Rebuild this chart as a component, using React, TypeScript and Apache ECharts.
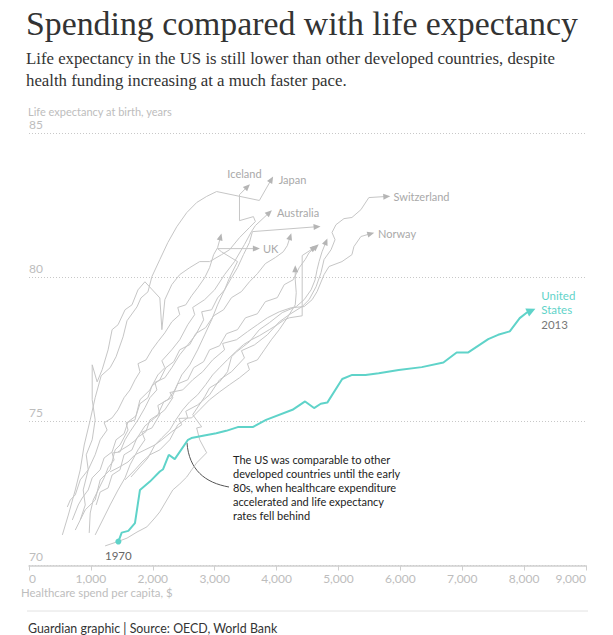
import React, { useEffect, useRef } from "react";
import * as echarts from "echarts";

// ---------- data (healthcare spend per capita $, life expectancy years) ----------
const xTicks = [0, 1000, 2000, 3000, 4000, 5000, 6000, 7000, 8000, 9000];
const yTicks = [70, 75, 80, 85];

const unitedStates = [
  [1444, 70.83], [1498, 71.14], [1605, 71.2], [1712, 71.47], [1793, 72.62], [1953, 72.91],
  [2114, 73.26], [2167, 73.34], [2259, 73.84], [2355, 73.69], [2569, 74.36], [2624, 74.42],
  [2810, 74.5], [3026, 74.59], [3186, 74.67], [3373, 74.8], [3614, 74.8], [3830, 75.05],
  [4257, 75.4], [4461, 75.69], [4606, 75.46], [4714, 75.61], [4820, 75.65], [5061, 76.47],
  [5222, 76.61], [5437, 76.61], [5651, 76.67], [5973, 76.78], [6347, 76.88], [6696, 77.04],
  [6910, 77.39], [7098, 77.39], [7420, 77.85], [7580, 78.0], [7768, 78.12], [7929, 78.58],
  [8035, 78.76], [8116, 78.84],
];
const japan = [
  [539, 71.06], [635, 71.75], [748, 72.62], [828, 73.32], [892, 74.18], [989, 75.05],
  [1069, 75.82], [1166, 76.58], [1311, 76.86], [1407, 77.24], [1520, 77.93], [1584, 78.49],
  [1745, 78.97], [1809, 79.28], [1922, 79.49], [1986, 80.02], [2114, 80.61], [2243, 81.2],
  [2388, 81.75], [2549, 82.24], [2710, 82.59], [2870, 82.8], [3031, 82.97], [3722, 82.66],
  [3916, 83.39],
];
const iceland = [
  [828, 71.58], [909, 72.1], [876, 72.62], [957, 73.32], [925, 73.84], [1021, 74.36],
  [1069, 75.05], [1021, 75.75], [1021, 76.96], [1101, 76.37], [1182, 76.79], [1278, 77.48],
  [1343, 78.18], [1439, 78.35], [1552, 78.87], [1664, 79.04], [1761, 79.56], [1873, 79.84],
  [2114, 79.28], [2147, 78.18], [2195, 79.22], [2307, 79.74], [2436, 80.09], [2597, 80.33],
  [2758, 80.54], [2918, 80.54], [3111, 80.78], [3240, 80.95], [3401, 81.37], [3562, 81.72],
  [3658, 81.93], [3626, 82.1], [3401, 81.96], [3401, 82.86], [3530, 83.14],
];
const australia = [
  [748, 71.23], [909, 71.93], [1069, 72.27], [1150, 72.97], [1311, 73.32], [1391, 74.01],
  [1471, 74.18], [1600, 74.7], [1568, 74.95], [1713, 75.05], [1793, 75.75], [1954, 76.09],
  [2082, 76.61], [2195, 76.86], [2147, 77.1], [2307, 77.48], [2436, 77.83], [2565, 78.35],
  [2677, 78.7], [2645, 78.95], [2838, 79.22], [2999, 79.56], [3160, 80.09], [3320, 80.54],
  [3481, 81.13], [3594, 81.58], [3658, 81.79], [3883, 82.24],
];
const uk = [
  [1069, 71.06], [1230, 71.75], [1311, 72.1], [1439, 72.62], [1552, 73.04], [1632, 73.49],
  [1761, 74.01], [1873, 74.36], [1825, 74.62], [1986, 74.77], [2114, 75.23], [2082, 75.55],
  [2243, 75.75], [2356, 76.09], [2468, 76.61], [2597, 76.96], [2725, 77.48], [2838, 78.0],
  [2951, 78.52], [3047, 79.04], [3160, 79.56], [3240, 79.98], [3369, 80.54], [3111, 80.88],
  [3047, 80.99], [3674, 80.99],
];
const switzerland = [
  [1552, 72.97], [1713, 73.32], [1825, 73.59], [1954, 73.84], [2114, 74.01], [2275, 74.36],
  [2404, 74.88], [2565, 75.12], [2533, 75.35], [2725, 75.57], [2918, 75.92], [3079, 76.44],
  [3272, 76.72], [3481, 77.2], [3433, 77.45], [3642, 77.65], [3851, 78.0], [4044, 78.45],
  [4205, 78.7], [4414, 78.98], [4526, 79.22], [4639, 79.67], [4719, 80.16], [4767, 80.61],
  [4880, 80.95], [4945, 81.3], [4896, 81.55], [4960, 81.82], [5089, 82.03], [5218, 82.07],
  [5363, 82.34], [5491, 82.76], [5781, 82.8],
];
const norway = [
  [1439, 73.94], [1600, 74.15], [1729, 74.36], [1873, 74.84], [2034, 75.12], [2195, 75.4],
  [2324, 75.82], [2276, 76.0], [2484, 76.09], [2645, 76.44], [2806, 76.72], [2967, 77.13],
  [3160, 77.48], [3128, 77.7], [3353, 77.83], [3530, 78.11], [3690, 78.35], [3851, 78.59],
  [4044, 78.8], [4237, 78.94], [4446, 78.98], [4575, 79.22], [4655, 79.5], [4768, 80.09],
  [4848, 80.37], [5057, 80.54], [5218, 80.78], [5250, 81.06], [5363, 81.41], [5524, 81.51],
];
const countryN1 = [
  [619, 72.03], [667, 72.27], [748, 72.45], [828, 72.97], [957, 73.32], [1069, 73.84],
  [1150, 74.36], [1262, 74.7], [1214, 74.95], [1343, 75.12], [1439, 75.4], [1536, 75.82],
  [1632, 76.09], [1713, 76.44], [1793, 76.72], [1761, 77.0], [1890, 77.13], [1986, 77.48],
  [2082, 77.76], [2195, 78.07], [2307, 78.45], [2436, 78.7], [2404, 78.95], [2533, 79.04],
  [2629, 79.36], [2725, 79.63], [2838, 79.98], [2918, 80.33], [2983, 80.78], [3047, 81.02],
  [3095, 81.4],
];
const countryN2 = [
  [700, 71.58], [796, 72.1], [860, 72.34], [957, 72.62], [1021, 73.04], [1150, 73.32],
  [1214, 73.73], [1343, 73.94], [1407, 74.36], [1536, 74.57], [1600, 74.98], [1729, 75.19],
  [1793, 75.61], [1922, 75.82], [1986, 76.23], [2114, 76.44], [2211, 76.86], [2340, 77.07],
  [2436, 77.48], [2597, 77.66], [2693, 78.04], [2854, 78.25], [2983, 78.66], [3144, 78.87],
  [3272, 79.29], [3433, 79.5], [3562, 79.84], [3690, 80.12], [3819, 80.47], [3980, 80.68],
  [4108, 80.88], [4173, 81.09], [4221, 81.41],
];
const countryF = [
  [973, 71.13], [989, 71.82], [1037, 72.27], [1118, 72.62], [1214, 73.04], [1278, 73.39],
  [1375, 73.66], [1343, 73.9], [1471, 73.94], [1552, 74.36], [1632, 74.64], [1761, 75.05],
  [1873, 75.47], [1954, 75.82], [2066, 76.09], [2034, 76.35], [2195, 76.51], [2307, 76.86],
  [2436, 77.31], [2565, 77.65], [2693, 78.0], [2822, 78.52], [2790, 78.8], [2951, 78.87],
  [3047, 79.28], [3160, 79.56], [3272, 79.98], [3369, 80.33], [3465, 80.78], [3562, 81.2],
  [3610, 81.58], [4655, 81.75],
];
const countryD = [
  [1311, 73.25], [1439, 73.39], [1600, 73.59], [1713, 73.84], [1873, 74.01], [2034, 74.18],
  [2147, 74.36], [2307, 74.64], [2468, 74.88], [2420, 75.1], [2629, 75.12], [2758, 75.4],
  [2918, 75.75], [3079, 76.02], [3240, 76.27], [3401, 76.51], [3562, 76.79], [3530, 77.0],
  [3690, 77.13], [3803, 77.48], [3916, 77.83], [4044, 78.18], [4173, 78.59], [4302, 79.04],
  [4318, 79.46], [4302, 79.91], [4302, 80.29],
];
const countryR = [
  [1230, 70.68], [1423, 70.82], [1584, 70.95], [1745, 71.16], [1905, 71.34], [2034, 71.65],
  [2114, 71.86], [2227, 72.27], [2323, 72.62], [2436, 72.83], [2549, 73.07], [2629, 73.32],
  [2709, 73.56], [2870, 73.91], [2758, 74.36], [2709, 74.77], [2790, 74.81], [2645, 75.23],
  [2838, 75.85], [2918, 76.16], [3079, 76.37], [3208, 76.72], [3272, 77.24], [3353, 77.41],
  [3562, 77.76], [3722, 78.18], [3883, 78.42], [4092, 78.77], [4318, 78.98], [4446, 79.22],
  [4558, 79.56], [4623, 79.91], [4655, 80.26], [4687, 80.54], [4735, 80.88], [4800, 81.23],
];
const countryG1 = [
  [1648, 73.07], [1793, 73.42], [1922, 73.73], [2034, 74.18], [2147, 74.43], [2275, 74.7],
  [2372, 75.05], [2484, 75.4], [2597, 75.68], [2725, 75.92], [2854, 76.27], [2967, 76.61],
  [3079, 76.86], [3208, 77.14], [3337, 77.41], [3465, 77.66], [3594, 77.83], [3722, 77.97],
  [3883, 78.18], [4012, 78.35], [4124, 78.52], [4205, 78.59], [4414, 78.66], [4414, 80.75],
  [4607, 81.02],
];
const countryG2 = [
  [1085, 72.1], [1150, 72.55], [1278, 72.69], [1343, 73.14], [1471, 73.32], [1536, 73.84],
  [1664, 74.01], [1745, 74.43], [1889, 74.64], [1954, 75.05], [2082, 75.23], [2179, 75.68],
  [2307, 75.82], [2404, 76.3], [2565, 76.44], [2661, 76.86], [2822, 77.07], [2918, 77.48],
  [3079, 77.62], [3192, 78.04], [3369, 78.18], [3497, 78.59], [3690, 78.73], [3819, 79.15],
  [4012, 79.29], [4124, 79.74], [4269, 79.91], [4366, 80.33], [4462, 80.61], [4526, 80.85],
  [4639, 81.06],
];

const TEAL = "#5fd3c9";
const GRAY = "#c6c6c6";
const LABEL_GRAY = "#a9a9a9";
const SANS = "Lato, 'Open Sans', sans-serif";
const SERIF = "'Liberation Serif', 'DejaVu Serif', serif";

type Country = { name: string; data: number[][]; label?: string; pos?: string; offset?: number[] };

const grayCountries: Country[] = [
  { name: "Japan", data: japan, label: "Japan", pos: "right" },
  { name: "Iceland", data: iceland, label: "Iceland", pos: "top", offset: [-3, 0] },
  { name: "Australia", data: australia, label: "Australia", pos: "right" },
  { name: "UK", data: uk, label: "UK", pos: "right" },
  { name: "Switzerland", data: switzerland, label: "Switzerland", pos: "right" },
  { name: "Norway", data: norway, label: "Norway", pos: "right" },
  { name: "N1", data: countryN1 },
  { name: "N2", data: countryN2 },
  { name: "F", data: countryF },
  { name: "D", data: countryD },
  { name: "R", data: countryR },
  { name: "G1", data: countryG1 },
  { name: "G2", data: countryG2 },
];

const annotationLines = [
  "The US was comparable to other",
  "developed countries until the early",
  "80s, when healthcare expenditure",
  "accelerated and life expectancy",
  "rates fell behind",
];

export default function App() {
  const ref = useRef<HTMLDivElement>(null);

  useEffect(() => {
    if (!ref.current) return;
    const chart = echarts.init(ref.current, undefined, { renderer: "svg" });

    const build = (rot: Record<string, number>, conn: number[] | null) => {
      const series: any[] = grayCountries.map((c) => {
        const n = c.data.length;
        const last: any = {
          value: c.data[n - 1],
          symbol: "triangle",
          symbolSize: [6, 7],
          symbolRotate: rot[c.name] || 0,
          itemStyle: { color: "#b5b5b5" },
        };
        if (c.label) {
          last.label = {
            show: true,
            position: c.pos,
            distance: 3,
            offset: c.offset || [0, 0],
            formatter: c.label,
            color: LABEL_GRAY,
            fontSize: 11,
            fontFamily: SANS,
          };
        }
        return {
          type: "line",
          name: c.name,
          data: [...c.data.slice(0, n - 1), last],
          showSymbol: true,
          symbol: "none",
          lineStyle: { color: GRAY, width: 1 },
          itemStyle: { color: GRAY },
          silent: true,
          z: 2,
          clip: false,
        };
      });
      const nu = unitedStates.length;
      series.push({
        type: "line",
        name: "United States",
        data: [
          {
            value: unitedStates[0],
            symbol: "circle",
            symbolSize: 6,
            itemStyle: { color: TEAL },
            label: {
              show: true,
              position: "bottom",
              distance: 5,
              formatter: "1970",
              color: "#666",
              fontSize: 11.5,
              fontFamily: SANS,
            },
          },
          ...unitedStates.slice(1, nu - 1),
          {
            value: unitedStates[nu - 1],
            symbol: "triangle",
            symbolSize: [9, 9],
            symbolRotate: rot["United States"] || 0,
            itemStyle: { color: TEAL },
            label: {
              show: true,
              position: "right",
              distance: 4,
              formatter: "{a|United}\n{a|States}\n{b|2013}",
              rich: {
                a: { color: TEAL, fontSize: 11.5, lineHeight: 14, fontFamily: SANS },
                b: { color: "#777", fontSize: 11.5, lineHeight: 16, fontFamily: SANS },
              },
            },
          },
        ],
        showSymbol: true,
        symbol: "none",
        lineStyle: { color: TEAL, width: 2 },
        itemStyle: { color: TEAL },
        silent: true,
        z: 5,
        clip: false,
      });

      const graphic: any[] = [
        {
          type: "text",
          x: 26,
          y: 23,
          style: {
            text: "Spending compared with life expectancy",
            fill: "#333",
            fontSize: 33.8,
            fontFamily: SERIF,
            verticalAlign: "middle",
          },
        },
        {
          type: "text",
          x: 26,
          y: 58,
          style: {
            text: "Life expectancy in the US is still lower than other developed countries, despite",
            fill: "#333",
            fontSize: 16.8,
            fontFamily: SERIF,
            verticalAlign: "middle",
          },
        },
        {
          type: "text",
          x: 26,
          y: 80,
          style: {
            text: "health funding increasing at a much faster pace.",
            fill: "#333",
            fontSize: 16.8,
            fontFamily: SERIF,
            verticalAlign: "middle",
          },
        },
        {
          type: "text",
          x: 28,
          y: 111,
          style: {
            text: "Life expectancy at birth, years",
            fill: "#bdbdbd",
            fontSize: 11,
            fontFamily: SANS,
            verticalAlign: "middle",
          },
        },
        {
          type: "text",
          x: 21,
          y: 592,
          style: {
            text: "Healthcare spend per capita, $",
            fill: "#bdbdbd",
            fontSize: 11.4,
            fontFamily: SANS,
            verticalAlign: "middle",
          },
        },
        {
          type: "line",
          shape: { x1: 27, y1: 611, x2: 588, y2: 611 },
          style: { stroke: "#e2e2e2", lineWidth: 1 },
        },
        {
          type: "text",
          x: 28,
          y: 628,
          style: {
            text: "Guardian graphic | Source: OECD, World Bank",
            fill: "#333",
            fontSize: 12.4,
            fontFamily: SANS,
            verticalAlign: "middle",
          },
        },
        {
          type: "text",
          x: 233,
          y: 453,
          style: {
            text: annotationLines.join("\n"),
            fill: "#222",
            fontSize: 11,
            lineHeight: 13.8,
            fontFamily: SANS,
            verticalAlign: "top",
          },
        },
      ];
      if (conn) {
        graphic.push({
          type: "bezierCurve",
          shape: {
            x1: conn[0] - 1,
            y1: conn[1] + 3,
            cpx1: conn[0] + 1,
            cpy1: conn[1] + 30,
            cpx2: conn[0] + 17,
            cpy2: conn[1] + 43,
            x2: 229,
            y2: 487,
          },
          style: { stroke: "#555", lineWidth: 1, fill: "none" },
        });
      }

      return {
        animation: false,
        grid: { left: 29, right: 27, top: 133, bottom: 69.5, containLabel: false },
        xAxis: {
          type: "value",
          min: xTicks[0],
          max: xTicks[xTicks.length - 1],
          interval: 1000,
          axisLine: { show: true, lineStyle: { color: "#cfcfcf", width: 1.5 } },
          axisTick: { show: true, length: 5, lineStyle: { color: "#cfcfcf" } },
          axisLabel: {
            color: "#bdbdbd",
            fontSize: 12,
            fontFamily: SANS,
            margin: 7,
            alignMinLabel: "left",
            alignMaxLabel: "right",
            formatter: (v: number) => v.toLocaleString("en-US"),
          },
          splitLine: { show: false },
        },
        yAxis: {
          type: "value",
          min: yTicks[0],
          max: yTicks[yTicks.length - 1],
          interval: 5,
          axisLine: { show: false },
          axisTick: { show: false },
          axisLabel: {
            inside: true,
            margin: 0,
            align: "left",
            verticalAlign: "bottom",
            padding: [0, 0, 3, 0],
            color: "#bdbdbd",
            fontSize: 12,
            fontFamily: SANS,
          },
          splitLine: { show: true, lineStyle: { color: "#c8c8c8", type: [1, 2], width: 1 } },
        },
        series,
        graphic,
      };
    };

    chart.setOption(build({}, null));
    const rot: Record<string, number> = {};
    const all = [...grayCountries.map((c) => ({ name: c.name, data: c.data })), { name: "United States", data: unitedStates }];
    all.forEach((c) => {
      const n = c.data.length;
      const a = chart.convertToPixel({ gridIndex: 0 }, c.data[n - 2]) as number[];
      const b = chart.convertToPixel({ gridIndex: 0 }, c.data[n - 1]) as number[];
      const ang = (Math.atan2(-(b[1] - a[1]), b[0] - a[0]) * 180) / Math.PI;
      rot[c.name] = ang - 90;
    });
    const conn = chart.convertToPixel({ gridIndex: 0 }, unitedStates[10]) as number[];
    chart.setOption(build(rot, conn), { notMerge: true });

    return () => chart.dispose();
  }, []);

  return (
    <div
      ref={ref}
      style={{ position: "fixed", left: 0, top: 0, width: 613, height: 635, background: "#fff" }}
    />
  );
}
